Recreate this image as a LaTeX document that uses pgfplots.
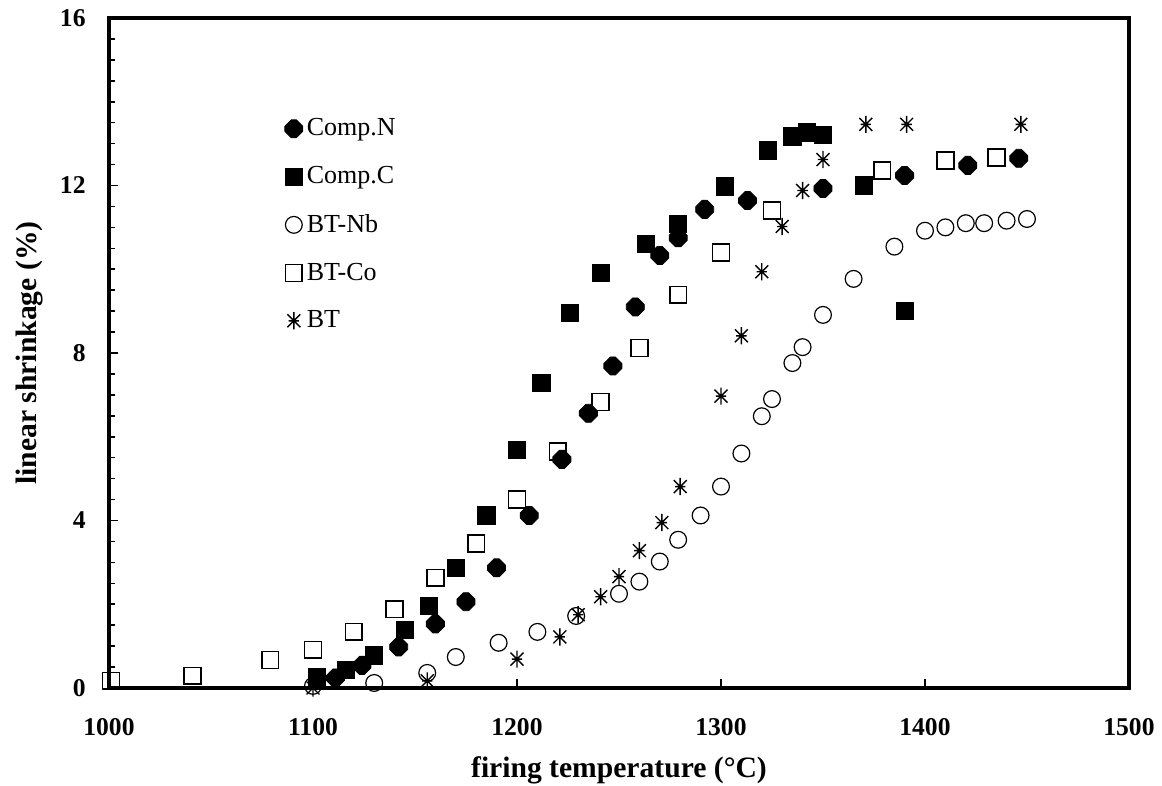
\documentclass[border=0pt]{standalone}
\usepackage{fontspec}
\setmainfont{Liberation Serif}
\usepackage{pgfplots}
\pgfplotsset{compat=1.18}
\pgfdeclareplotmark{bstar}{%
  \pgfpathmoveto{\pgfpoint{0pt}{\pgfplotmarksize}}%
  \pgfpathlineto{\pgfpoint{0pt}{-\pgfplotmarksize}}%
  \pgfpathmoveto{\pgfpoint{-0.6\pgfplotmarksize}{0pt}}%
  \pgfpathlineto{\pgfpoint{0.6\pgfplotmarksize}{0pt}}%
  \pgfpathmoveto{\pgfpoint{-0.75\pgfplotmarksize}{0.75\pgfplotmarksize}}%
  \pgfpathlineto{\pgfpoint{0.75\pgfplotmarksize}{-0.75\pgfplotmarksize}}%
  \pgfpathmoveto{\pgfpoint{-0.75\pgfplotmarksize}{-0.75\pgfplotmarksize}}%
  \pgfpathlineto{\pgfpoint{0.75\pgfplotmarksize}{0.75\pgfplotmarksize}}%
  \pgfusepathqstroke}
\pgfdeclareplotmark{octd}{%
  \pgfpathmoveto{\pgfpoint{0.28\pgfplotmarksize}{\pgfplotmarksize}}%
  \pgfpathlineto{\pgfpoint{\pgfplotmarksize}{0.28\pgfplotmarksize}}%
  \pgfpathlineto{\pgfpoint{\pgfplotmarksize}{-0.28\pgfplotmarksize}}%
  \pgfpathlineto{\pgfpoint{0.28\pgfplotmarksize}{-\pgfplotmarksize}}%
  \pgfpathlineto{\pgfpoint{-0.28\pgfplotmarksize}{-\pgfplotmarksize}}%
  \pgfpathlineto{\pgfpoint{-\pgfplotmarksize}{-0.28\pgfplotmarksize}}%
  \pgfpathlineto{\pgfpoint{-\pgfplotmarksize}{0.28\pgfplotmarksize}}%
  \pgfpathlineto{\pgfpoint{-0.28\pgfplotmarksize}{\pgfplotmarksize}}%
  \pgfpathclose
  \pgfusepathqfillstroke}

\pgfplotstableread{
x y
1111 0.24
1124 0.54
1142 0.98
1160 1.53
1175 2.06
1190 2.87
1206 4.12
1222 5.46
1235 6.56
1247 7.69
1258 9.10
1270 10.33
1279 10.75
1292 11.43
1313 11.64
1350 11.93
1390 12.24
1421 12.48
1446 12.65
}\compN
\pgfplotstableread{
x y
1102 0.26
1116 0.43
1130 0.78
1145 1.39
1157 1.96
1170 2.87
1185 4.12
1200 5.68
1212 7.28
1226 8.96
1241 9.92
1263 10.61
1279 11.09
1302 11.98
1323 12.84
1335 13.17
1342 13.27
1350 13.20
1370 12.00
1390 9.00
}\compC
\pgfplotstableread{
x y
1100 0.05
1130 0.12
1156 0.36
1170 0.74
1191 1.08
1210 1.34
1229 1.72
1250 2.25
1260 2.54
1270 3.02
1279 3.54
1290 4.12
1300 4.81
1310 5.60
1320 6.49
1325 6.90
1335 7.76
1340 8.14
1350 8.91
1365 9.77
1385 10.54
1400 10.92
1410 11.00
1420 11.10
1429 11.10
1440 11.16
1450 11.20
}\btnb
\pgfplotstableread{
x y
1001 0.17
1041 0.29
1079 0.67
1100 0.91
1120 1.34
1140 1.88
1160 2.63
1180 3.45
1200 4.50
1220 5.65
1241 6.83
1260 8.12
1279 9.39
1300 10.40
1325 11.40
1379 12.36
1410 12.60
1435 12.67
}\btco
\pgfplotstableread{
x y
1100 0.00
1156 0.17
1200 0.69
1221 1.22
1230 1.75
1241 2.18
1250 2.66
1260 3.28
1271 3.95
1280 4.81
1300 6.97
1310 8.41
1320 9.94
1330 11.02
1340 11.88
1350 12.62
1371 13.46
1391 13.46
1447 13.46
}\bt

\begin{document}
\begin{tikzpicture}
\path[use as bounding box] (-54.5pt,-49pt) rectangle (526.5pt,344pt);
\begin{axis}[
  at={(0,0)}, anchor=south west,
  scale only axis, width=510pt, height=335pt,
  xmin=1000, xmax=1500, ymin=0, ymax=16,
  clip=false,
  axis line style={line width=1.6pt},
  xtick={1000,1100,1200,1300,1400,1500},
  ytick={0,4,8,12,16},
  minor y tick num=7,
  tick align=inside,
  xtick pos=bottom, ytick pos=left,
  major tick length=4.5pt, minor tick length=3pt,
  tick style={line width=0.8pt, black},
  /pgf/number format/assume math mode=true,
  /pgf/number format/set thousands separator={},
  ticklabel style={font=\bfseries\fontsize{12.8}{12.8}\selectfont},
  xticklabel style={anchor=center, yshift=-19.5pt},
  yticklabel style={anchor=east, inner sep=0pt, xshift=-11.5pt},
  xlabel={firing temperature (°C)},
  ylabel={linear shrinkage (\%)},
  label style={font=\bfseries\fontsize{14.8}{14.8}\selectfont},
  x label style={at={(axis description cs:0.5,-0.1224)}, anchor=center},
  y label style={at={(axis description cs:-0.0775,0.5)}, anchor=center},
  legend style={draw=none, fill=none, at={(axis cs:1086,13.7)}, anchor=north west,
    font=\fontsize{13}{13}\selectfont, row sep=9.8pt, inner sep=0pt},
  legend cell align=left,
]
\addplot[only marks, mark=octd, mark size=4.5pt, black] table {\compN};
\addlegendentry{Comp.N}
\addplot[only marks, mark=square*, mark size=4.3pt, black] table {\compC};
\addlegendentry{Comp.C}
\addplot[only marks, mark=o, mark size=4.2pt, black, line width=0.6pt] table {\btnb};
\addlegendentry{BT-Nb}
\addplot[only marks, mark=square, mark size=4.2pt, black, line width=0.8pt] table {\btco};
\addlegendentry{BT-Co}
\addplot[only marks, mark=bstar, mark size=4.3pt, black, line width=0.7pt] table {\bt};
\addlegendentry{BT}
\end{axis}
\end{tikzpicture}
\end{document}
